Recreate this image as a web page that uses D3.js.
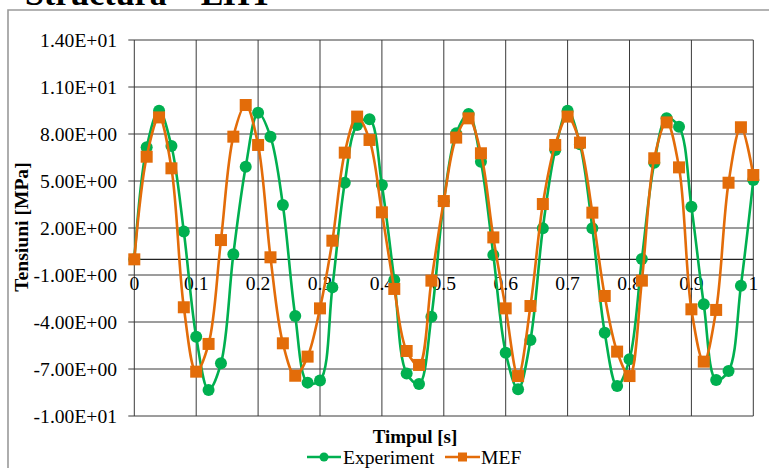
<!DOCTYPE html>
<html>
<head>
<meta charset="utf-8">
<script src="https://cdn.jsdelivr.net/npm/d3@7"></script>
<style>
  html, body { margin: 0; padding: 0; background: #fff; }
  svg { display: block; }
  text { font-family: "Liberation Serif", "Times New Roman", serif; fill: #000; }
</style>
</head>
<body>
<svg id="chart" width="769" height="468"></svg>
<script>
// Time samples [s]
const time = [0, 0.02, 0.04, 0.06, 0.08, 0.1, 0.12, 0.14, 0.16, 0.18,
  0.2, 0.22, 0.24, 0.26, 0.28, 0.3, 0.32, 0.34, 0.36, 0.38,
  0.4, 0.42, 0.44, 0.46, 0.48, 0.5, 0.52, 0.54, 0.56, 0.58,
  0.6, 0.62, 0.64, 0.66, 0.68, 0.7, 0.72, 0.74, 0.76, 0.78,
  0.8, 0.82, 0.84, 0.86, 0.88, 0.9, 0.92, 0.94, 0.96, 0.98, 1];

// Measured stress [MPa]
const experiment = [0, 7.15, 9.49, 7.23, 1.77, -4.94, -8.34, -6.64, 0.32, 5.91,
  9.36, 7.83, 3.47, -3.62, -7.87, -7.74, -1.79, 4.89, 8.57, 8.94,
  4.74, -1.32, -7.28, -7.96, -3.66, 3.70, 8.04, 9.28, 6.23, 0.28,
  -5.96, -8.30, -5.15, 1.98, 6.98, 9.49, 7.35, 1.98, -4.68, -8.09,
  -6.38, 0.02, 6.17, 9.00, 8.47, 3.36, -2.87, -7.70, -7.13, -1.68, 5.06];

// Finite element model stress [MPa]
const mef = [0, 6.55, 9.06, 5.81, -3.06, -7.17, -5.40, 1.23, 7.83, 9.85,
  7.30, 0.13, -5.36, -7.43, -6.21, -3.13, 1.19, 6.81, 9.11, 7.62,
  3.00, -1.89, -5.85, -6.74, -1.36, 3.72, 7.77, 9.00, 6.77, 1.40,
  -3.13, -7.45, -2.98, 3.53, 7.30, 9.11, 7.45, 2.98, -2.34, -5.89,
  -7.45, -1.36, 6.45, 8.74, 5.87, -3.19, -6.53, -3.23, 4.89, 8.43, 5.38];

const yTicks = [14, 11, 8, 5, 2, -1, -4, -7, -10];
const yTickLabels = ["1.40E+01", "1.10E+01", "8.00E+00", "5.00E+00", "2.00E+00",
  "-1.00E+00", "-4.00E+00", "-7.00E+00", "-1.00E+01"];
const xTicks = [0, 0.1, 0.2, 0.3, 0.4, 0.5, 0.6, 0.7, 0.8, 0.9, 1];
const xTickLabels = ["0", "0.1", "0.2", "0.3", "0.4", "0.5", "0.6", "0.7", "0.8", "0.9", "1"];

const seriesNames = ["Experiment", "MEF"];
const seriesColors = ["#00b050", "#e36c09"];

const svg = d3.select("#chart");

const x = d3.scaleLinear().domain([0, 1]).range([134.3, 753.3]);
const y = d3.scaleLinear().domain([-10, 14]).range([416, 40]);

// Outer chart frame (top and left edges)
svg.append("path")
  .attr("d", "M8,468 L8,10 L769,10")
  .attr("fill", "none")
  .attr("stroke", "#9a9a9a")
  .attr("stroke-width", 1.6);

// Title
svg.append("text")
  .attr("x", 25).attr("y", 5)
  .attr("font-size", 34).attr("font-weight", "bold")
  .text("Structura – EHT");

// Grid
const grid = svg.append("g").attr("stroke", "#3a3a3a").attr("stroke-width", 1);
grid.selectAll("line.h").data(yTicks).join("line")
  .attr("x1", x(0) - 6).attr("x2", x(1))
  .attr("y1", d => y(d)).attr("y2", d => y(d));
grid.selectAll("line.v").data(xTicks).join("line")
  .attr("x1", d => x(d)).attr("x2", d => x(d))
  .attr("y1", y(14)).attr("y2", y(-10));

// Horizontal axis through zero
svg.append("line")
  .attr("x1", x(0)).attr("x2", x(1))
  .attr("y1", y(0)).attr("y2", y(0))
  .attr("stroke", "#222").attr("stroke-width", 1.2);

// Y tick labels
svg.append("g").selectAll("text").data(yTicks).join("text")
  .attr("x", 117).attr("y", d => y(d))
  .attr("dy", "0.34em")
  .attr("text-anchor", "end")
  .attr("font-size", 19.6)
  .text((d, i) => yTickLabels[i]);

// X tick labels, just below the zero line
svg.append("g").selectAll("text").data(xTicks).join("text")
  .attr("x", d => x(d)).attr("y", y(0) + 30.5)
  .attr("text-anchor", "middle")
  .attr("font-size", 19.6)
  .text((d, i) => xTickLabels[i]);

// Axis titles
svg.append("text")
  .attr("transform", `translate(28,${227}) rotate(-90)`)
  .attr("text-anchor", "middle")
  .attr("font-size", 19.6).attr("font-weight", "bold")
  .text("Tensiuni [MPa]");

svg.append("text")
  .attr("x", 415).attr("y", 443)
  .attr("text-anchor", "middle")
  .attr("font-size", 19).attr("font-weight", "bold")
  .text("Timpul [s]");

// Series
const line = d3.line()
  .x(d => x(d[0])).y(d => y(d[1]))
  .curve(d3.curveCatmullRom.alpha(0.5));

const series = [experiment, mef].map((vals, i) => ({
  name: seriesNames[i], color: seriesColors[i],
  points: time.map((t, j) => [t, vals[j]])
}));

series.forEach((s, i) => {
  const g = svg.append("g");
  g.append("path")
    .attr("d", line(s.points))
    .attr("fill", "none")
    .attr("stroke", s.color)
    .attr("stroke-width", 2.6);
  if (i === 0) {
    g.selectAll("circle").data(s.points).join("circle")
      .attr("cx", d => x(d[0])).attr("cy", d => y(d[1]))
      .attr("r", 6).attr("fill", s.color);
  } else {
    g.selectAll("rect").data(s.points).join("rect")
      .attr("x", d => x(d[0]) - 6).attr("y", d => y(d[1]) - 6)
      .attr("width", 12).attr("height", 12).attr("fill", s.color);
  }
});

// Legend
const legend = svg.append("g");
const legendItems = [
  { x0: 307, x1: 341, tx: 343 },
  { x0: 445, x1: 480, tx: 481 }
];
legendItems.forEach((it, i) => {
  const ly = 457;
  legend.append("line")
    .attr("x1", it.x0).attr("x2", it.x1)
    .attr("y1", ly).attr("y2", ly)
    .attr("stroke", seriesColors[i]).attr("stroke-width", 2.6);
  const cx = (it.x0 + it.x1) / 2;
  if (i === 0) {
    legend.append("circle").attr("cx", cx).attr("cy", ly).attr("r", 4.5).attr("fill", seriesColors[i]);
  } else {
    legend.append("rect").attr("x", cx - 4.5).attr("y", ly - 4.5)
      .attr("width", 9).attr("height", 9).attr("fill", seriesColors[i]);
  }
  legend.append("text")
    .attr("x", it.tx).attr("y", ly + 6.5)
    .attr("font-size", 19.6)
    .text(seriesNames[i]);
});
</script>
</body>
</html>
